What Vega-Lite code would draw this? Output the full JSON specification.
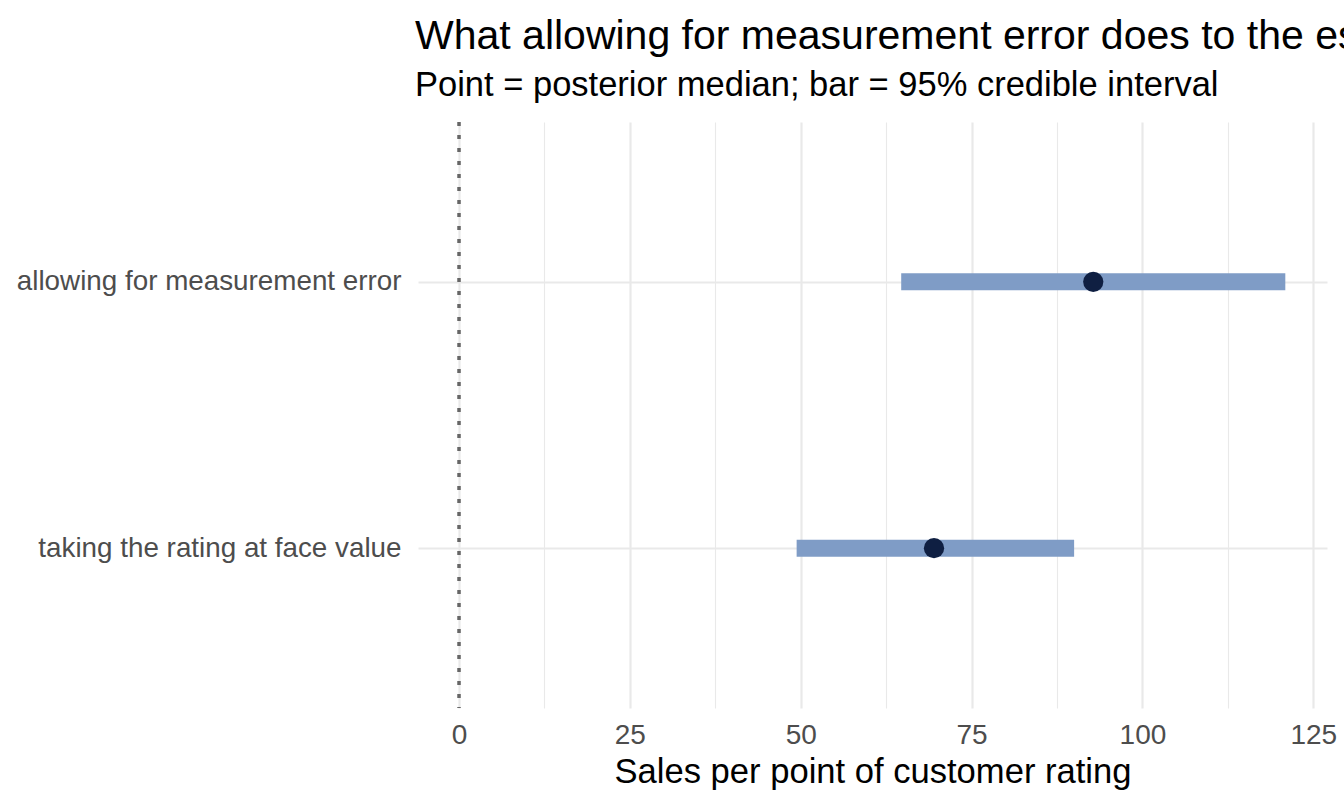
{
  "$schema": "https://vega.github.io/schema/vega-lite/v6.json",
  "autosize": {"type": "none"},
  "width": 909,
  "height": 586,
  "padding": {"left": 418, "top": 122, "right": 17, "bottom": 98},
  "background": "white",
  "title": {
    "text": "What allowing for measurement error does to the estimate",
    "subtitle": "Point = posterior median; bar = 95% credible interval",
    "anchor": "start",
    "frame": "group",
    "font": "Liberation Sans",
    "fontSize": 41,
    "fontWeight": "normal",
    "color": "black",
    "subtitleFont": "Liberation Sans",
    "subtitleFontSize": 34.5,
    "subtitleColor": "black",
    "subtitlePadding": 11,
    "offset": 17,
    "dx": -3
  },
  "config": {
    "view": {"stroke": null},
    "font": "Liberation Sans"
  },
  "data": {
    "values": [
      {"model": "allowing for measurement error", "low": 64.7, "high": 120.9, "median": 92.8},
      {"model": "taking the rating at face value", "low": 49.4, "high": 90.0, "median": 69.5}
    ]
  },
  "encoding": {
    "y": {
      "field": "model",
      "type": "nominal",
      "sort": ["allowing for measurement error", "taking the rating at face value"],
      "scale": {"type": "point", "padding": 0.6},
      "title": null,
      "axis": {
        "domain": false,
        "ticks": false,
        "grid": true,
        "gridColor": "#e9e9e9",
        "gridWidth": 2.2,
        "labelFont": "Liberation Sans",
        "labelFontSize": 27.8,
        "labelColor": "#4d4d4d",
        "labelPadding": 17,
        "labelLimit": 500
      }
    }
  },
  "layer": [
    {
      "mark": {"type": "rule", "color": "#666666", "strokeWidth": 3, "strokeDash": [4, 9]},
      "encoding": {
        "x": {"datum": 0, "type": "quantitative"},
        "y": null
      }
    },
    {
      "mark": {"type": "rule", "color": "#7f9cc6", "strokeWidth": 17, "strokeCap": "butt"},
      "encoding": {
        "x": {
          "field": "low",
          "type": "quantitative",
          "scale": {"domain": [-6, 127], "nice": false, "zero": false},
          "title": "Sales per point of customer rating",
          "axis": {
            "values": [0, 12.5, 25, 37.5, 50, 62.5, 75, 87.5, 100, 112.5, 125],
            "labelExpr": "datum.value % 25 === 0 ? datum.label : ''",
            "domain": false,
            "ticks": false,
            "grid": true,
            "gridColor": "#e9e9e9",
            "gridWidth": {"condition": {"test": "datum.value % 25 === 0", "value": 2.2}, "value": 1.1},
            "labelFont": "Liberation Sans",
            "labelFontSize": 28,
            "labelColor": "#4d4d4d",
            "labelPadding": 13,
            "labelFlush": false,
            "titleFont": "Liberation Sans",
            "titleFontSize": 34.6,
            "titleFontWeight": "normal",
            "titleColor": "black",
            "titlePadding": 6
          }
        },
        "x2": {"field": "high"}
      }
    },
    {
      "mark": {"type": "circle", "color": "#0f1f42", "size": 410, "opacity": 1},
      "encoding": {
        "x": {"field": "median", "type": "quantitative"}
      }
    }
  ]
}
